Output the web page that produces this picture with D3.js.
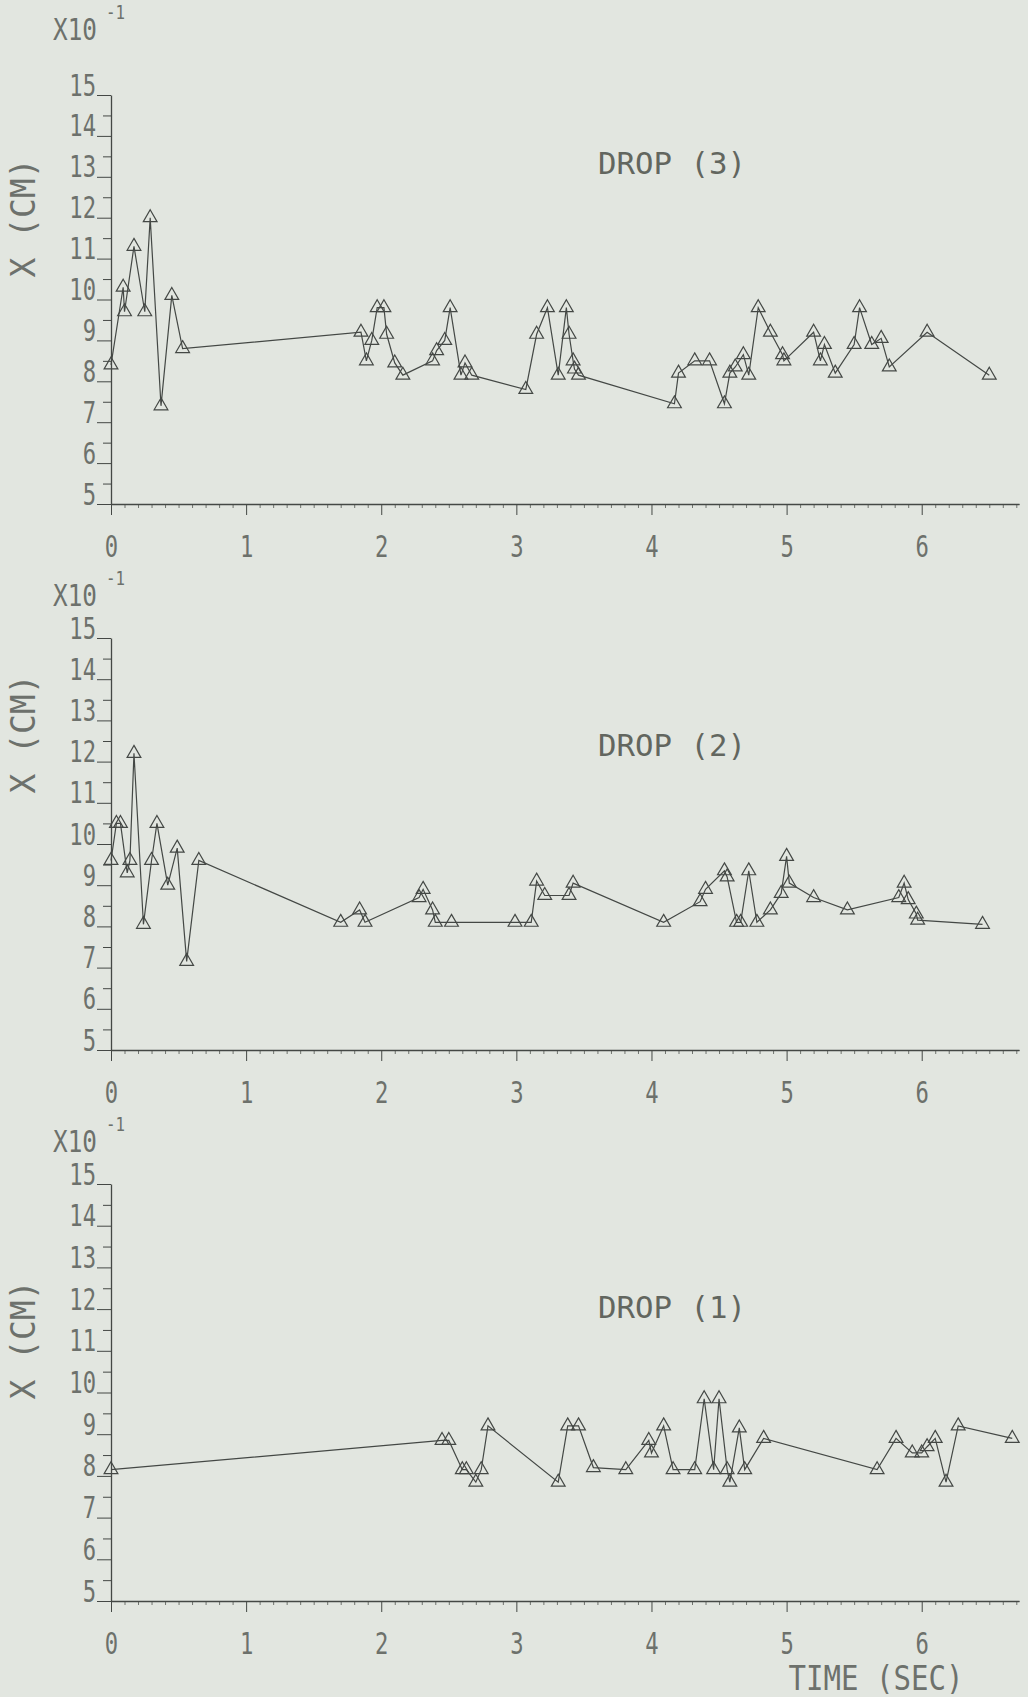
<!DOCTYPE html>
<html>
<head>
<meta charset="utf-8">
<script src="https://cdn.jsdelivr.net/npm/d3@7"></script>
<style>
  body { margin: 0; background: #e2e6e0; }
  svg { display: block; }
</style>
</head>
<body>
<div id="chart"></div>
<script>
// tick labels
const timeTicks = [0, 1, 2, 3, 4, 5, 6];
const posTicks = [5, 6, 7, 8, 9, 10, 11, 12, 13, 14, 15];

// DROP (3) - top panel, X in units of 10^-1 cm
const drop3Time = [0.00, 0.09, 0.10, 0.17, 0.25, 0.29, 0.37, 0.45, 0.53, 1.85, 1.89, 1.93, 1.97, 2.02,
  2.04, 2.10, 2.16, 2.38, 2.41, 2.47, 2.51, 2.59, 2.62, 2.67, 3.07, 3.15, 3.23, 3.31, 3.37, 3.39,
  3.42, 3.43, 3.46, 4.17, 4.20, 4.32, 4.43, 4.54, 4.58, 4.62, 4.68, 4.72, 4.79, 4.88, 4.97, 4.98,
  5.20, 5.25, 5.28, 5.36, 5.50, 5.54, 5.63, 5.70, 5.76, 6.04, 6.50];
const drop3X = [8.4, 10.3, 9.7, 11.3, 9.7, 12.0, 7.4, 10.1, 8.8, 9.2, 8.5, 9.0, 9.8, 9.8,
  9.15, 8.45, 8.15, 8.5, 8.75, 9.0, 9.8, 8.15, 8.45, 8.15, 7.8, 9.15, 9.8, 8.15, 9.8, 9.15,
  8.5, 8.3, 8.15, 7.45, 8.2, 8.5, 8.5, 7.45, 8.2, 8.35, 8.65, 8.15, 9.8, 9.2, 8.65, 8.5,
  9.2, 8.5, 8.9, 8.2, 8.9, 9.8, 8.9, 9.05, 8.35, 9.2, 8.15];

// DROP (2) - middle panel
const drop2Time = [0.00, 0.04, 0.07, 0.12, 0.14, 0.17, 0.24, 0.30, 0.34, 0.42, 0.49, 0.56, 0.65,
  1.70, 1.84, 1.88, 2.28, 2.31, 2.38, 2.40, 2.52, 2.99, 3.11, 3.15, 3.21, 3.39, 3.42, 4.09,
  4.36, 4.40, 4.54, 4.56, 4.63, 4.66, 4.72, 4.78, 4.88, 4.96, 5.00, 5.02, 5.20, 5.45, 5.83,
  5.87, 5.90, 5.96, 5.97, 6.45];
const drop2X = [9.6, 10.5, 10.5, 9.3, 9.6, 12.2, 8.05, 9.6, 10.5, 9.0, 9.9, 7.15, 9.6,
  8.1, 8.4, 8.1, 8.7, 8.9, 8.4, 8.1, 8.1, 8.1, 8.1, 9.1, 8.75, 8.75, 9.05, 8.1,
  8.6, 8.9, 9.35, 9.2, 8.1, 8.1, 9.35, 8.1, 8.4, 8.8, 9.7, 9.05, 8.7, 8.4, 8.7,
  9.05, 8.65, 8.3, 8.15, 8.05];

// DROP (1) - bottom panel
const drop1Time = [0.00, 2.45, 2.50, 2.60, 2.63, 2.70, 2.74, 2.79, 3.31, 3.38, 3.46, 3.57, 3.81,
  3.98, 4.00, 4.09, 4.16, 4.32, 4.39, 4.46, 4.50, 4.56, 4.58, 4.65, 4.69, 4.83, 5.67, 5.81,
  5.93, 6.00, 6.04, 6.10, 6.18, 6.27, 6.67];
const drop1X = [8.15, 8.85, 8.85, 8.15, 8.15, 7.85, 8.15, 9.2, 7.85, 9.2, 9.2, 8.2, 8.15,
  8.85, 8.55, 9.2, 8.15, 8.15, 9.85, 8.15, 9.85, 8.15, 7.85, 9.15, 8.15, 8.9, 8.15, 8.9,
  8.55, 8.55, 8.7, 8.9, 7.85, 9.2, 8.9];

const panels = [
  { title: "DROP (3)", time: drop3Time, x: drop3X, top: 95, bottom: 504, titleY: 174, multY: 40, unitY: 218 },
  { title: "DROP (2)", time: drop2Time, x: drop2X, top: 638, bottom: 1050, titleY: 756, multY: 606, unitY: 734 },
  { title: "DROP (1)", time: drop1Time, x: drop1X, top: 1184, bottom: 1601, titleY: 1318, multY: 1152, unitY: 1340 }
];

const width = 1028;
const height = 1697;
const lineColor = "#444845";
const textColor = "#6d716c";
const font = "'DejaVu Sans Mono', monospace";

const svg = d3.select("#chart")
  .append("svg")
  .attr("width", width)
  .attr("height", height);

svg.append("rect")
  .attr("width", width)
  .attr("height", height)
  .attr("fill", "#e2e6e0");

// time scale shared by all three panels
const xScale = d3.scaleLinear()
  .domain([0, 6.72])
  .range([111, 1019]);

const minorTime = d3.range(1, 68).map(i => i / 10).filter(v => Math.abs(v - Math.round(v)) > 1e-6);
const halfPos = d3.range(5.5, 15, 1);

const tri = d3.symbol(d3.symbolTriangle).size(82);

panels.forEach(p => {
  const yScale = d3.scaleLinear()
    .domain([5, 15])
    .range([p.bottom, p.top]);

  const g = svg.append("g");

  // minor time ticks
  g.append("g")
    .attr("transform", `translate(0,${p.bottom})`)
    .call(d3.axisBottom(xScale).tickValues(minorTime).tickSize(4).tickSizeOuter(0).tickFormat(""))
    .attr("color", "#6f736e");

  // major time ticks + labels
  g.append("g")
    .attr("transform", `translate(0,${p.bottom})`)
    .call(d3.axisBottom(xScale).tickValues(timeTicks).tickSize(11).tickSizeOuter(0)
      .tickPadding(21).tickFormat(d3.format("d")))
    .attr("color", lineColor)
    .attr("font-family", font)
    .attr("font-size", 30)
    .call(a => a.selectAll("text").attr("fill", textColor).attr("transform", "scale(0.74,1)"))
    .call(a => a.select(".domain").attr("stroke-width", 1.3));

  // half-step position ticks
  g.append("g")
    .attr("transform", `translate(${xScale(0)},0)`)
    .call(d3.axisLeft(yScale).tickValues(halfPos).tickSize(8).tickSizeOuter(0).tickFormat(""))
    .attr("color", lineColor)
    .call(a => a.select(".domain").remove());

  // integer position ticks + labels
  g.append("g")
    .attr("transform", `translate(${xScale(0)},0)`)
    .call(d3.axisLeft(yScale).tickValues(posTicks).tickSize(14).tickSizeOuter(0).tickFormat(d3.format("d")))
    .attr("color", lineColor)
    .attr("font-family", font)
    .attr("font-size", 30)
    .call(a => a.selectAll("text")
      .attr("fill", textColor)
      .attr("dy", "0")
      .attr("x", -15 / 0.74)
      .attr("transform", "scale(0.74,1)"))
    .call(a => a.select(".domain").attr("stroke-width", 1.3));

  // multiplier label
  g.append("text")
    .attr("x", 53)
    .attr("y", p.multY)
    .attr("font-family", font)
    .attr("font-size", 30)
    .attr("fill", textColor)
    .attr("textLength", 44)
    .attr("lengthAdjust", "spacingAndGlyphs")
    .text("X10");
  g.append("text")
    .attr("x", 106)
    .attr("y", p.multY - 21)
    .attr("font-family", font)
    .attr("font-size", 20)
    .attr("fill", textColor)
    .attr("textLength", 19)
    .attr("lengthAdjust", "spacingAndGlyphs")
    .text("-1");

  // axis title
  g.append("text")
    .attr("transform", `translate(35,${p.unitY}) rotate(-90)`)
    .attr("text-anchor", "middle")
    .attr("font-family", font)
    .attr("font-size", 33)
    .attr("fill", textColor)
    .text("X (CM)");

  // panel title
  g.append("text")
    .attr("x", 598)
    .attr("y", p.titleY)
    .attr("font-family", font)
    .attr("font-size", 30)
    .attr("fill", "#62665f")
    .attr("textLength", 148)
    .attr("lengthAdjust", "spacingAndGlyphs")
    .text(p.title);

  const pts = p.time.map((t, i) => [t, p.x[i]]);

  g.append("path")
    .datum(pts)
    .attr("fill", "none")
    .attr("stroke", lineColor)
    .attr("stroke-width", 1.2)
    .attr("d", d3.line().x(d => xScale(d[0])).y(d => yScale(d[1])));

  g.append("g")
    .selectAll("path")
    .data(pts)
    .join("path")
    .attr("transform", d => `translate(${xScale(d[0])},${yScale(d[1])})`)
    .attr("d", tri)
    .attr("fill", "none")
    .attr("stroke", lineColor)
    .attr("stroke-width", 1.2);
});

// x axis title under bottom panel
svg.append("text")
  .attr("x", 876)
  .attr("y", 1690)
  .attr("text-anchor", "middle")
  .attr("font-family", font)
  .attr("font-size", 34)
  .attr("fill", textColor)
  .attr("textLength", 175)
  .attr("lengthAdjust", "spacingAndGlyphs")
  .text("TIME (SEC)");
</script>
</body>
</html>
